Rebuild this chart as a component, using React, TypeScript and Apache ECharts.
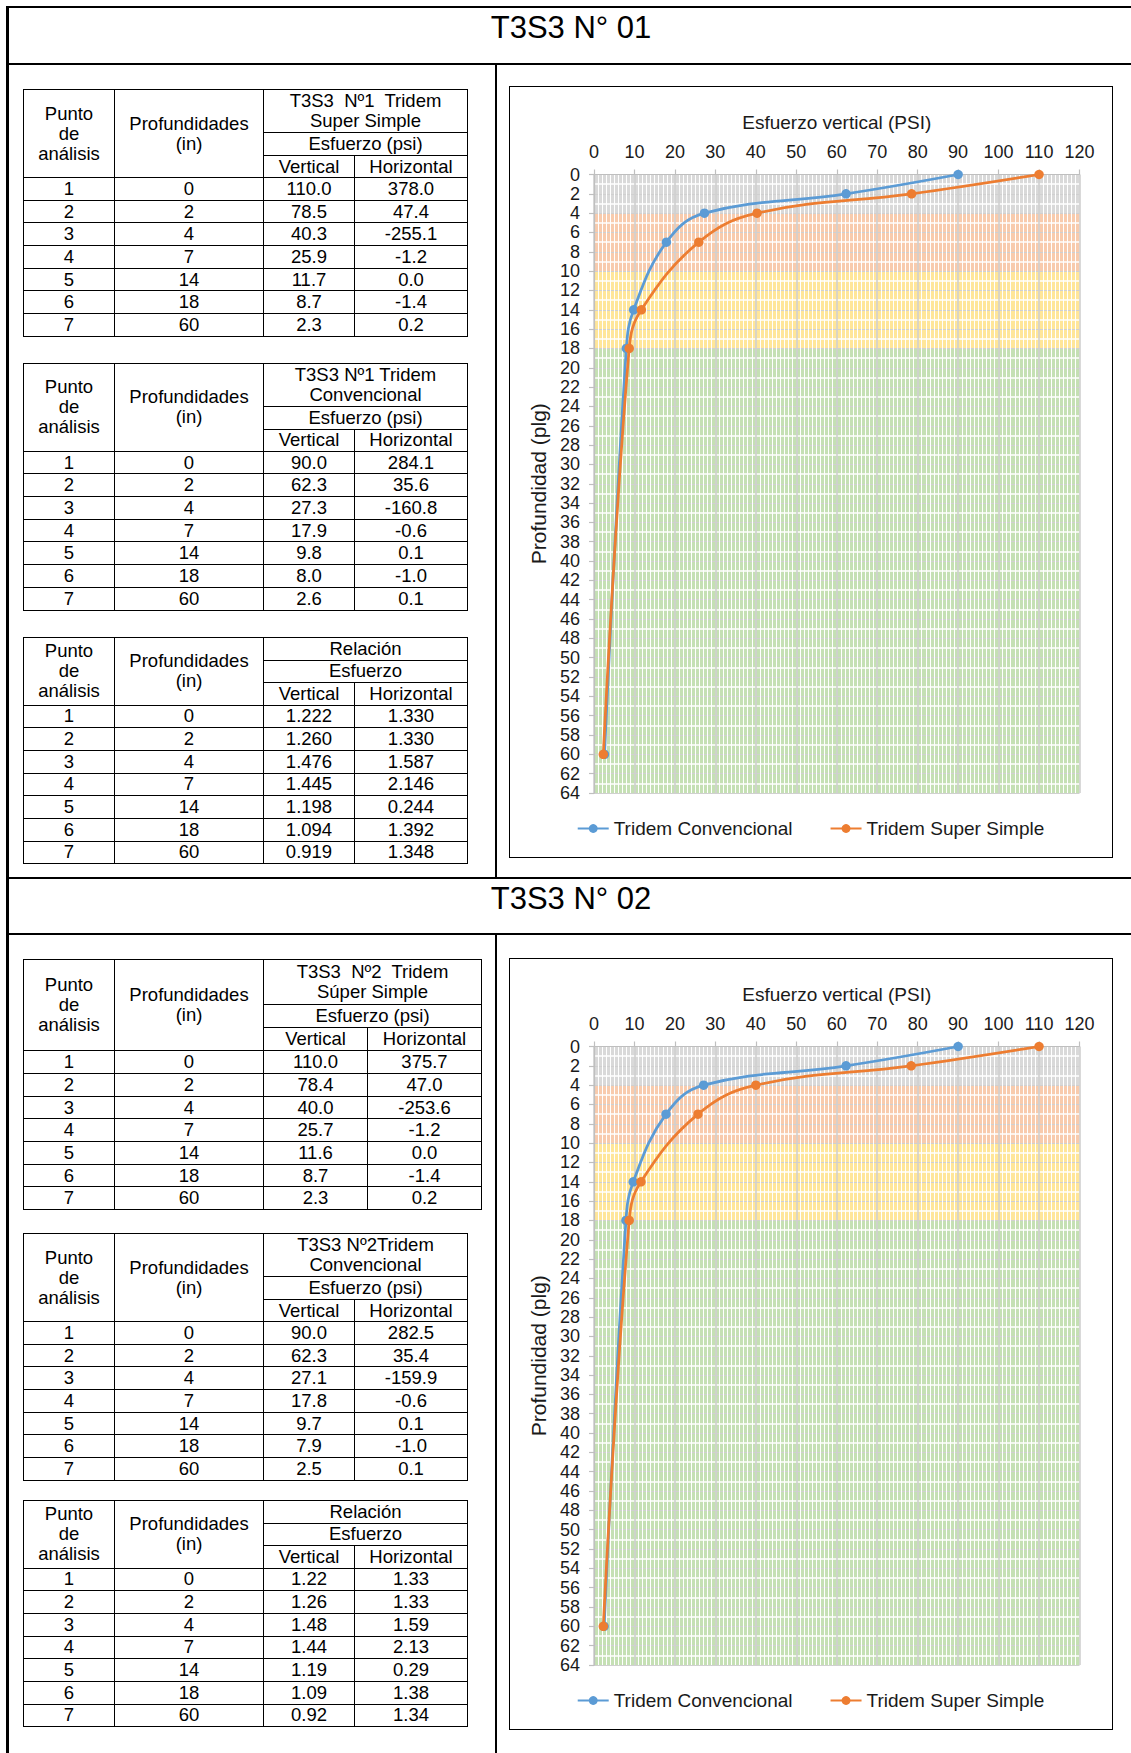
import React, { useEffect, useRef } from "react";
import * as echarts from "echarts";

const FONT = '"Liberation Sans", Arial, Helvetica, sans-serif';

// ---------- data ----------
const POINTS = [1, 2, 3, 4, 5, 6, 7];
const DEPTHS = [0, 2, 4, 7, 14, 18, 60];

const T1_SS_V = [110.0, 78.5, 40.3, 25.9, 11.7, 8.7, 2.3];
const T1_SS_H = [378.0, 47.4, -255.1, -1.2, 0.0, -1.4, 0.2];
const T1_CONV_V = [90.0, 62.3, 27.3, 17.9, 9.8, 8.0, 2.6];
const T1_CONV_H = [284.1, 35.6, -160.8, -0.6, 0.1, -1.0, 0.1];
const T1_REL_V = [1.222, 1.26, 1.476, 1.445, 1.198, 1.094, 0.919];
const T1_REL_H = [1.33, 1.33, 1.587, 2.146, 0.244, 1.392, 1.348];

const T2_SS_V = [110.0, 78.4, 40.0, 25.7, 11.6, 8.7, 2.3];
const T2_SS_H = [375.7, 47.0, -253.6, -1.2, 0.0, -1.4, 0.2];
const T2_CONV_V = [90.0, 62.3, 27.1, 17.8, 9.7, 7.9, 2.5];
const T2_CONV_H = [282.5, 35.4, -159.9, -0.6, 0.1, -1.0, 0.1];
const T2_REL_V = [1.22, 1.26, 1.48, 1.44, 1.19, 1.09, 0.92];
const T2_REL_H = [1.33, 1.33, 1.59, 2.13, 0.29, 1.38, 1.34];

const X_MIN = 0;
const X_MAX = 120;
const X_STEP = 10;
const Y_MIN = 0;
const Y_MAX = 64;
const Y_STEP = 2;

const BANDS = [
  [0, 4],
  [4, 10],
  [10, 18],
  [18, 64],
];
const BAND_COLORS = ["#d9d9d9", "#f8cbad", "#ffe699", "#c5e0b4"];

const NAME_CONV = "Tridem Convencional";
const NAME_SS = "Tridem Super Simple";
const COLOR_CONV = "#5B9BD5";
const COLOR_SS = "#ED7D31";

// ---------- chart ----------
function buildOption(conv: number[], ss: number[]) {
  const lineSeries = (name: string, vals: number[], color: string, z: number) => ({
    name,
    type: "line",
    data: DEPTHS.map((d, i) => [vals[i], d]),
    smooth: 0.4,
    symbol: "circle",
    symbolSize: 9.5,
    showSymbol: true,
    lineStyle: { color, width: 2.75 },
    itemStyle: { color },
    z,
  });
  return {
    animation: false,
    textStyle: { fontFamily: FONT },
    grid: { left: 84, top: 87.5, width: 485.5, height: 618.5 },
    legend: {
      data: [NAME_CONV, NAME_SS],
      left: "center",
      top: 732,
      itemGap: 37,
      itemWidth: 31,
      itemHeight: 11,
      padding: 0,
      textStyle: { fontSize: 19, color: "#1a1a1a", fontFamily: FONT },
    },
    xAxis: {
      type: "value",
      position: "top",
      min: X_MIN,
      max: X_MAX,
      interval: X_STEP,
      z: 2,
      name: "Esfuerzo vertical (PSI)",
      nameLocation: "middle",
      nameGap: 43,
      nameTextStyle: { fontSize: 19, color: "#1a1a1a", fontFamily: FONT },
      axisLine: { show: true, lineStyle: { color: "#bfbfbf", width: 1.2 } },
      axisTick: { show: true, length: 5, lineStyle: { color: "#bfbfbf", width: 1.2 } },
      axisLabel: { fontSize: 18, color: "#1a1a1a", margin: 14, fontFamily: FONT },
      splitLine: { show: true, lineStyle: { color: "#d0d0d0", width: 1.6 } },
      minorTick: { show: false, splitNumber: 10 },
      minorSplitLine: { show: true, lineStyle: { color: "#ffffff", width: 1 } },
    },
    yAxis: {
      type: "value",
      inverse: true,
      min: Y_MIN,
      max: Y_MAX,
      interval: Y_STEP,
      z: 2,
      name: "Profundidad (plg)",
      nameLocation: "middle",
      nameGap: 41,
      nameTextStyle: { fontSize: 21, color: "#1a1a1a", fontFamily: FONT },
      axisLine: { show: true, lineStyle: { color: "#bfbfbf", width: 1.2 } },
      axisTick: { show: true, length: 5, lineStyle: { color: "#bfbfbf", width: 1.2 } },
      axisLabel: { fontSize: 18, color: "#1a1a1a", margin: 14, fontFamily: FONT },
      splitLine: { show: true, lineStyle: { color: "#d0d0d0", width: 1 } },
      minorTick: { show: false, splitNumber: 2 },
      minorSplitLine: { show: true, lineStyle: { color: "#ffffff", width: 1.5 } },
    },
    series: [
      {
        type: "custom",
        silent: true,
        z: 1,
        data: BANDS,
        renderItem: (params: any, api: any) => {
          const y0 = api.value(0);
          const y1 = api.value(1);
          const p0 = api.coord([X_MIN, y0]);
          const p1 = api.coord([X_MAX, y1]);
          return {
            type: "rect",
            shape: { x: p0[0], y: p0[1], width: p1[0] - p0[0], height: p1[1] - p0[1] },
            style: { fill: BAND_COLORS[params.dataIndex] },
          };
        },
      },
      lineSeries(NAME_CONV, conv, COLOR_CONV, 3),
      lineSeries(NAME_SS, ss, COLOR_SS, 4),
    ],
  };
}

function StressChart({ top, conv, ss }: { top: number; conv: number[]; ss: number[] }) {
  const ref = useRef<HTMLDivElement>(null);
  useEffect(() => {
    const chart = echarts.init(ref.current as HTMLDivElement, null, { renderer: "svg" });
    chart.setOption(buildOption(conv, ss) as any);
    return () => chart.dispose();
  }, [conv, ss]);
  return (
    <div
      style={{
        position: "absolute",
        left: 508.5,
        top,
        width: 604,
        height: 772,
        border: "1.5px solid #000",
        boxSizing: "border-box",
        background: "#fff",
      }}
    >
      <div ref={ref} style={{ width: 601, height: 769 }} />
    </div>
  );
}

// ---------- tables ----------
const cellStyle: React.CSSProperties = {
  border: "1.8px solid #000",
  padding: 0,
  textAlign: "center",
  verticalAlign: "middle",
  lineHeight: "20px",
  whiteSpace: "pre",
  overflow: "hidden",
};

function DataTable(props: {
  left: number;
  top: number;
  cols: number[];
  head1: string[];
  head2: string;
  hHeights: number[];
  rowH: number;
  v: number[];
  h: number[];
  dec: number;
}) {
  const { left, top, cols, head1, head2, hHeights, rowH, v, h, dec } = props;
  const width = cols.reduce((a, b) => a + b, 0);
  return (
    <table
      style={{
        position: "absolute",
        left,
        top,
        width,
        borderCollapse: "collapse",
        tableLayout: "fixed",
        fontFamily: FONT,
        fontSize: 18.5,
        color: "#000",
      }}
    >
      <colgroup>
        {cols.map((w, i) => (
          <col key={i} style={{ width: w }} />
        ))}
      </colgroup>
      <tbody>
        <tr style={{ height: hHeights[0] }}>
          <td rowSpan={3} style={cellStyle}>
            {"Punto"}
            <br />
            {"de"}
            <br />
            {"análisis"}
          </td>
          <td rowSpan={3} style={cellStyle}>
            {"Profundidades"}
            <br />
            {"(in)"}
          </td>
          <td colSpan={2} style={cellStyle}>
            {head1.map((t, i) => (
              <React.Fragment key={i}>
                {i > 0 ? <br /> : null}
                {t}
              </React.Fragment>
            ))}
          </td>
        </tr>
        <tr style={{ height: hHeights[1] }}>
          <td colSpan={2} style={cellStyle}>
            {head2}
          </td>
        </tr>
        <tr style={{ height: hHeights[2] }}>
          <td style={cellStyle}>Vertical</td>
          <td style={cellStyle}>Horizontal</td>
        </tr>
        {POINTS.map((p, i) => (
          <tr key={p} style={{ height: rowH }}>
            <td style={cellStyle}>{String(p)}</td>
            <td style={cellStyle}>{String(DEPTHS[i])}</td>
            <td style={cellStyle}>{v[i].toFixed(dec)}</td>
            <td style={cellStyle}>{h[i].toFixed(dec)}</td>
          </tr>
        ))}
      </tbody>
    </table>
  );
}

function Line({ x, y, w, h }: { x: number; y: number; w: number; h: number }) {
  return <div style={{ position: "absolute", left: x, top: y, width: w, height: h, background: "#000" }} />;
}

function SectionTitle({ top, text }: { top: number; text: string }) {
  return (
    <div
      style={{
        position: "absolute",
        left: 8,
        width: 1126,
        top,
        height: 34,
        lineHeight: "34px",
        textAlign: "center",
        fontFamily: FONT,
        fontSize: 31,
        color: "#000",
        whiteSpace: "pre",
      }}
    >
      {text}
    </div>
  );
}

const COLS_A = [91, 149, 91, 113];
const COLS_B = [91, 149, 104, 114];

export default function App() {
  return (
    <div
      style={{
        position: "absolute",
        left: 0,
        top: 0,
        width: 1131,
        height: 1753,
        overflow: "hidden",
        background: "#fff",
        fontFamily: FONT,
      }}
    >
      {/* frame */}
      <Line x={6} y={5.8} w={1125} h={2.5} />
      <Line x={6} y={62.6} w={1125} h={2.5} />
      <Line x={6} y={876.8} w={1125} h={2.5} />
      <Line x={6} y={932.8} w={1125} h={2.5} />
      <Line x={6} y={5.8} w={2.5} h={1760} />
      <Line x={494.5} y={62.6} w={2.5} h={816} />
      <Line x={494.5} y={932.8} w={2.5} h={830} />

      <SectionTitle top={10.5} text="T3S3 N° 01" />
      <SectionTitle top={881.5} text="T3S3 N° 02" />

      {/* section 1 */}
      <DataTable
        left={23}
        top={89}
        cols={COLS_A}
        head1={["T3S3  Nº1  Tridem", "Super Simple"]}
        head2="Esfuerzo (psi)"
        hHeights={[43, 23, 22]}
        rowH={22.7}
        v={T1_SS_V}
        h={T1_SS_H}
        dec={1}
      />
      <DataTable
        left={23}
        top={362.7}
        cols={COLS_A}
        head1={["T3S3 Nº1 Tridem", "Convencional"]}
        head2="Esfuerzo (psi)"
        hHeights={[43, 23, 22]}
        rowH={22.7}
        v={T1_CONV_V}
        h={T1_CONV_H}
        dec={1}
      />
      <DataTable
        left={23}
        top={637}
        cols={COLS_A}
        head1={["Relación"]}
        head2="Esfuerzo"
        hHeights={[22.5, 22.5, 22.5]}
        rowH={22.7}
        v={T1_REL_V}
        h={T1_REL_H}
        dec={3}
      />
      <StressChart top={86} conv={T1_CONV_V} ss={T1_SS_V} />

      {/* section 2 */}
      <DataTable
        left={23}
        top={959.3}
        cols={COLS_B}
        head1={["T3S3  Nº2  Tridem", "Súper Simple"]}
        head2="Esfuerzo (psi)"
        hHeights={[45, 23, 23]}
        rowH={22.7}
        v={T2_SS_V}
        h={T2_SS_H}
        dec={1}
      />
      <DataTable
        left={23}
        top={1233}
        cols={COLS_A}
        head1={["T3S3 Nº2Tridem", "Convencional"]}
        head2="Esfuerzo (psi)"
        hHeights={[43, 23, 22]}
        rowH={22.7}
        v={T2_CONV_V}
        h={T2_CONV_H}
        dec={1}
      />
      <DataTable
        left={23}
        top={1500}
        cols={COLS_A}
        head1={["Relación"]}
        head2="Esfuerzo"
        hHeights={[22.5, 22.5, 22.5]}
        rowH={22.7}
        v={T2_REL_V}
        h={T2_REL_H}
        dec={2}
      />
      <StressChart top={957.8} conv={T2_CONV_V} ss={T2_SS_V} />
    </div>
  );
}
